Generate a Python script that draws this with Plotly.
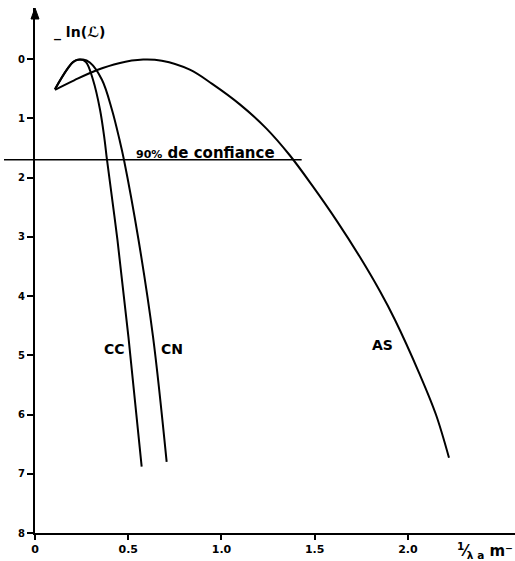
import plotly.graph_objects as go

# ---- data ----
as_x = [0.107, 0.21, 0.33, 0.45, 0.58, 0.68, 0.83, 0.95, 1.10, 1.24, 1.365, 1.49, 1.62, 1.74, 1.85, 1.93, 2.06, 2.15, 2.22]
as_y = [0.52, 0.36, 0.19, 0.07, 0.01, 0.03, 0.18, 0.42, 0.77, 1.17, 1.62, 2.15, 2.74, 3.33, 3.92, 4.40, 5.30, 6.00, 6.73]

cc_x = [0.107, 0.171, 0.203, 0.241, 0.273, 0.311, 0.349, 0.373, 0.386, 0.442, 0.501, 0.572]
cc_y = [0.51, 0.18, 0.05, 0.01, 0.05, 0.35, 0.86, 1.36, 1.70, 3.05, 4.69, 6.88]

cn_x = [0.107, 0.171, 0.214, 0.257, 0.294, 0.359, 0.413, 0.453, 0.477, 0.555, 0.633, 0.706]
cn_y = [0.51, 0.18, 0.03, 0.01, 0.06, 0.35, 0.86, 1.36, 1.70, 3.05, 4.69, 6.80]

conf_level = 1.70
conf_x_end = 1.43

x_tickvals = [0, 0.5, 1.0, 1.5, 2.0]
x_ticktext = ["0", "0.5", "1.0", "1.5", "2.0"]
y_tickvals = [0, 1, 2, 3, 4, 5, 6, 7, 8]
y_ticktext = ["0", "1", "2", "3", "4", "5", "6", "7", "8"]

curve_labels = {"CC": (0.424, 4.89), "CN": (0.735, 4.89), "AS": (1.866, 4.82)}

X_RANGE = [0, 2.574]
Y_RANGE = [8, -0.861]

FONT = "DejaVu Sans"
W, H = 515, 561
ML, MR, MT, MB = 35, 0, 8, 28
PW, PH = W - ML - MR, H - MT - MB

fig = go.Figure()
for xs, ys in [(as_x, as_y), (cc_x, cc_y), (cn_x, cn_y)]:
    fig.add_trace(go.Scatter(x=xs, y=ys, mode="lines",
                             line=dict(color="black", width=2, shape="spline", smoothing=1.0),
                             showlegend=False, hoverinfo="skip"))

# 90% confidence line (extends slightly left of the axis)
fig.add_trace(go.Scatter(x=[X_RANGE[0], conf_x_end], y=[conf_level, conf_level], mode="lines",
                         line=dict(color="black", width=1.5), showlegend=False, hoverinfo="skip"))
ypaper = (Y_RANGE[0] - conf_level) / (Y_RANGE[0] - Y_RANGE[1])
fig.add_shape(type="line", xref="paper", yref="paper", x0=-31 / PW, x1=0, y0=ypaper, y1=ypaper,
              line=dict(color="black", width=1.5))

fig.add_annotation(x=0.912, y=1.58, xref="x", yref="y", showarrow=False,
                   text="<b><span style='font-size:11px'>90%</span> de confiance</b>",
                   font=dict(family=FONT, size=15, color="black"))

for name, (lx, ly) in curve_labels.items():
    fig.add_annotation(x=lx, y=ly, xref="x", yref="y", showarrow=False, text="<b>%s</b>" % name,
                       font=dict(family=FONT, size=14, color="black"))

# y-axis title
fig.add_annotation(xref="paper", yref="paper", x=17 / PW, y=1 - (22 - MT) / PH, xanchor="left",
                   showarrow=False, text="<b>_ ln(ℒ)</b>",
                   font=dict(family=FONT, size=14, color="black"))

# x-axis title
fig.add_annotation(xref="paper", yref="paper", x=1.0, y=0, xanchor="right", yanchor="top", yshift=-5,
                   showarrow=False, text="<b><sup>1</sup>⁄<sub>λ a</sub> m⁻</b>",
                   font=dict(family=FONT, size=15, color="black"))

# arrow head on y axis (triangle)
hw, hh = 4 / PW, 11 / PH
fig.add_shape(type="path", xref="paper", yref="paper",
              path="M %f,%f L %f,%f L %f,%f Z" % (-hw, 1 - hh, 0, 1, hw, 1 - hh),
              fillcolor="black", line=dict(color="black", width=1))

fig.update_xaxes(range=X_RANGE, showgrid=False, zeroline=False, showline=True, linecolor="black",
                 linewidth=2, ticks="outside", ticklen=5, tickwidth=1.5, tickcolor="black",
                 tickvals=x_tickvals, ticktext=["<b>%s</b>" % t for t in x_ticktext],
                 tickfont=dict(family=FONT, size=11, color="black"))
fig.update_yaxes(range=Y_RANGE, showgrid=False, zeroline=False, showline=True, linecolor="black",
                 linewidth=2, ticks="outside", ticklen=6, tickwidth=1.5, tickcolor="black",
                 tickvals=y_tickvals, ticktext=["<b>%s</b>" % t for t in y_ticktext],
                 tickfont=dict(family=FONT, size=10, color="black"))

fig.update_layout(width=W, height=H, margin=dict(l=ML, r=MR, t=MT, b=MB),
                  plot_bgcolor="white", paper_bgcolor="white")

fig.write_html("out.html")
